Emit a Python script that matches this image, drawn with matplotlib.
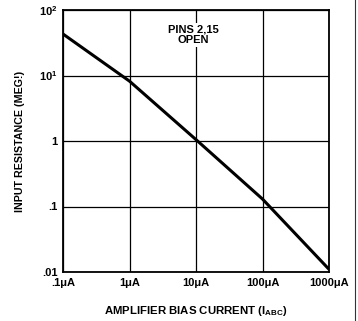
import matplotlib
matplotlib.use("Agg")
import matplotlib.pyplot as plt
from matplotlib.lines import Line2D

# Data
bias_current_uA = [0.1, 1, 10, 100, 1000]
input_resistance_meg = [43, 8.2, 1.05, 0.13, 0.011]

x_ticks = [0.1, 1, 10, 100, 1000]
x_ticklabels = [".1\u03bcA", "1\u03bcA", "10\u03bcA", "100\u03bcA", "1000\u03bcA"]
y_ticks = [0.01, 0.1, 1, 10, 100]
y_ticklabels = [".01", ".1", "1", "10$^1$", "10$^2$"]

plt.rcParams['font.family'] = ['Liberation Sans', 'DejaVu Sans']
plt.rcParams['mathtext.fontset'] = 'custom'
plt.rcParams['mathtext.rm'] = 'Liberation Sans:bold'
plt.rcParams['mathtext.it'] = 'Liberation Sans:bold'
plt.rcParams['mathtext.bf'] = 'Liberation Sans:bold'

fig = plt.figure(figsize=(3.58, 3.21), dpi=100)
ax = fig.add_axes([63/358, 49/321, 266/358, 262/321])

ax.plot(bias_current_uA, input_resistance_meg, color='black', lw=2.2, solid_capstyle='butt')
ax.set_xscale('log')
ax.set_yscale('log')
ax.set_xlim(0.1, 1000)
ax.set_ylim(0.01, 100)
ax.set_xticks(x_ticks)
ax.set_xticklabels(x_ticklabels)
ax.set_yticks(y_ticks)
ax.set_yticklabels(y_ticklabels)
ax.minorticks_off()
ax.tick_params(length=0, labelsize=8, pad=4)
for lab in ax.get_xticklabels() + ax.get_yticklabels():
    lab.set_fontweight('bold')
ax.grid(True, color='black', lw=0.9)
for s in ax.spines.values():
    s.set_linewidth(1.3)

ax.set_ylabel("INPUT RESISTANCE (MEG!)", fontsize=7.7, fontweight='bold', labelpad=10)
ax.set_xlabel("AMPLIFIER BIAS CURRENT (I$_{ABC}$)", fontsize=8.2, fontweight='bold', labelpad=12)

ax.text(9.2, 42, "PINS 2,15\nOPEN", ha='center', va='center', fontsize=8,
        fontweight='bold', linespacing=1.15,
        bbox=dict(facecolor='white', edgecolor='none', pad=1))

fig.add_artist(Line2D([355/358, 355/358], [0, 1], color='#333333', lw=0.8,
                      transform=fig.transFigure))

fig.savefig("out.png", dpi=100, facecolor='white')
